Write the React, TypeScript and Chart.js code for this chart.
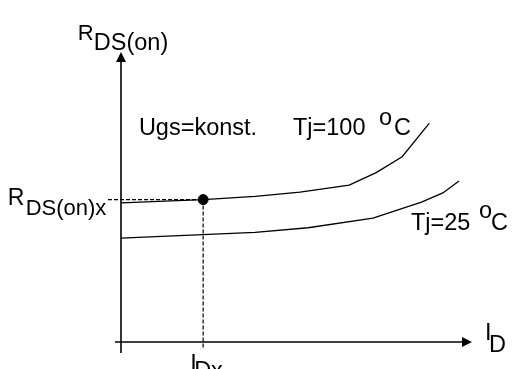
import React, { useEffect, useRef } from "react";
import { Chart, registerables } from "chart.js";

Chart.register(...registerables);

// ---- data (arbitrary units: I_D horizontal, R_DS(on) vertical) ----
const currentHot = [0, 23.4, 38.2, 51.0, 65.0, 72.7, 80.1, 87.8];
const resistanceHot = [48.0, 49.1, 50.2, 51.7, 54.1, 58.4, 63.9, 75.4];
const currentCold = [0, 38.2, 53.3, 71.8, 85.6, 91.7, 96.3];
const resistanceCold = [35.8, 37.8, 39.4, 42.7, 48.2, 51.4, 55.5];
const pointCurrent = [23.4];
const pointResistance = [49.1];
const axisRange = [0, 100];

type Part = { t: string; dx: number; dy: number; size: number };
type Label = { x: number; y: number; parts: Part[] };

const FONT = '"Liberation Sans", Arial, sans-serif';
const S = 23.5;

// label anchors in data units, parts offsets in pixels
const labels: Label[] = [
  { x: -12.3, y: 104.1, parts: [{ t: "R", dx: 0, dy: 0, size: 22 }, { t: "DS(on)", dx: 16, dy: 10, size: S }] },
  { x: 5.1, y: 71.4, parts: [{ t: "Ugs=konst.", dx: 0, dy: 0, size: S }] },
  { x: 49.0, y: 71.4, parts: [{ t: "Tj=100", dx: 0, dy: 0, size: S }, { t: "o", dx: 86, dy: -10, size: S }, { t: "C", dx: 101, dy: 0, size: S }] },
  { x: -32.3, y: 47.2, parts: [{ t: "R", dx: 0, dy: 0, size: 23 }, { t: "DS(on)x", dx: 18, dy: 10, size: 22 }] },
  { x: 19.7, y: -10.0, parts: [{ t: "I", dx: 0, dy: 0, size: S }, { t: "Dx", dx: 4, dy: 7, size: S }] },
  { x: 103.7, y: 0.7, parts: [{ t: "I", dx: 0, dy: 0, size: S }, { t: "D", dx: 4, dy: 12, size: S }] },
  { x: 82.6, y: 38.6, parts: [{ t: "Tj=25", dx: 0, dy: 0, size: S }, { t: "o", dx: 68, dy: -12, size: S }, { t: "C", dx: 80, dy: 0, size: S }] },
];

const zip = (xs: number[], ys: number[]) => xs.map((x, i) => ({ x, y: ys[i] }));

const decorPlugin = {
  id: "decor",
  afterDatasetsDraw(chart: any) {
    const { ctx } = chart;
    const xs = chart.scales.x;
    const ys = chart.scales.y;
    const x0 = xs.getPixelForValue(axisRange[0]);
    const y0 = ys.getPixelForValue(axisRange[0]);
    const xTip = xs.getPixelForValue(axisRange[1]);
    const yTip = ys.getPixelForValue(axisRange[1]);
    ctx.save();
    ctx.strokeStyle = "#000";
    ctx.fillStyle = "#000";
    ctx.lineWidth = 1.6;
    // y axis
    ctx.beginPath();
    ctx.moveTo(x0, ys.getPixelForValue(-3.8));
    ctx.lineTo(x0, yTip + 8);
    ctx.stroke();
    ctx.beginPath();
    ctx.moveTo(x0, yTip);
    ctx.lineTo(x0 - 5, yTip + 10);
    ctx.lineTo(x0 + 5, yTip + 10);
    ctx.closePath();
    ctx.fill();
    // x axis
    ctx.beginPath();
    ctx.moveTo(xs.getPixelForValue(-1.7), y0);
    ctx.lineTo(xTip - 8, y0);
    ctx.stroke();
    ctx.beginPath();
    ctx.moveTo(xTip, y0);
    ctx.lineTo(xTip - 10, y0 - 5);
    ctx.lineTo(xTip - 10, y0 + 5);
    ctx.closePath();
    ctx.fill();
    // labels
    ctx.textBaseline = "alphabetic";
    ctx.textAlign = "left";
    for (const l of labels) {
      const px = xs.getPixelForValue(l.x);
      const py = ys.getPixelForValue(l.y);
      for (const p of l.parts) {
        ctx.font = `${p.size}px ${FONT}`;
        ctx.fillText(p.t, px + p.dx, py + p.dy);
      }
    }
    ctx.restore();
  },
};

export default function App() {
  const ref = useRef<HTMLCanvasElement | null>(null);
  useEffect(() => {
    if (!ref.current) return;
    const line = { borderColor: "#000", borderWidth: 1.3, pointRadius: 0, showLine: true, tension: 0, clip: false as any };
    const chart = new Chart(ref.current, {
      type: "scatter",
      data: {
        datasets: [
          { ...line, data: zip(currentHot, resistanceHot) },
          { ...line, data: zip(currentCold, resistanceCold) },
          { ...line, borderWidth: 1.2, borderDash: [4, 2], data: [{ x: -3.7, y: pointResistance[0] }, { x: pointCurrent[0], y: pointResistance[0] }] },
          { ...line, borderWidth: 1.2, borderDash: [4, 2], data: [{ x: pointCurrent[0], y: pointResistance[0] }, { x: pointCurrent[0], y: -2.1 }] },
          { data: zip(pointCurrent, pointResistance), pointRadius: 5, backgroundColor: "#000", borderColor: "#000", showLine: false, clip: false as any },
        ],
      },
      options: {
        animation: false,
        responsive: false,
        devicePixelRatio: 1,
        layout: { padding: { left: 121, right: 40, top: 52, bottom: 27 } },
        scales: {
          x: { type: "linear", display: false, min: axisRange[0], max: axisRange[1] },
          y: { type: "linear", display: false, min: axisRange[0], max: axisRange[1] },
        },
        plugins: { legend: { display: false }, tooltip: { enabled: false } },
      },
      plugins: [decorPlugin],
    });
    return () => chart.destroy();
  }, []);
  return (
    <div style={{ position: "fixed", left: 0, top: 0, width: 512, height: 369, background: "#fff" }}>
      <canvas ref={ref} width={512} height={369} />
    </div>
  );
}
